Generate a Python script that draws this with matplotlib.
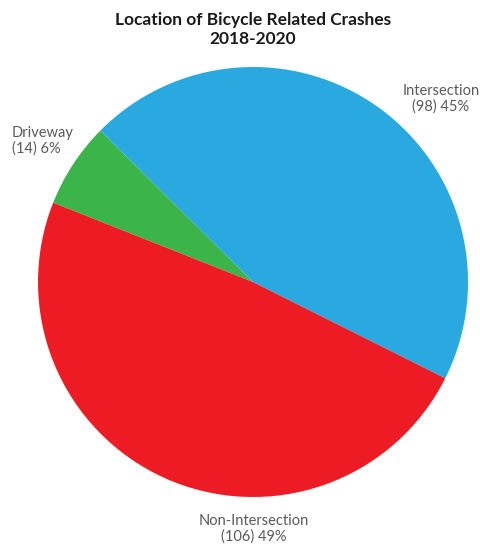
import matplotlib.pyplot as plt

labels = ["Intersection", "Driveway", "Non-Intersection"]
counts = [98, 14, 106]
colors = ["#29A9E0", "#3BB54A", "#ED1C24"]

W, H = 481, 548
fig = plt.figure(figsize=(W / 100, H / 100), dpi=100)

# pie centred at (253, 282) px with a 215 px radius
cx, cy, r = 253, 282, 215
ax = fig.add_axes([(cx - r) / W, (H - cy - r) / H, 2 * r / W, 2 * r / H])
ax.pie(counts, colors=colors, startangle=-26.6, counterclock=True,
       radius=1, wedgeprops=dict(linewidth=0))
ax.set_xlim(-1, 1)
ax.set_ylim(-1, 1)
ax.set_aspect("equal")
ax.axis("off")

total = sum(counts)
texts = [f"{lab}\n({n}) {round(100 * n / total)}%" for lab, n in zip(labels, counts)]

font = dict(family="Lato", fontsize=10.5, color="#5a5a5a", fontweight="normal",
            linespacing=1.1)
fig.text(441 / W, 1 - 99 / H, texts[0], ha="center", va="center", **font)
fig.text(12 / W, 1 - 141 / H, texts[1], ha="left", va="center", **font)
fig.text(254 / W, 1 - 529 / H, texts[2], ha="center", va="center", **font)

fig.text(253 / W, 1 - 29.5 / H, "Location of Bicycle Related Crashes\n2018-2020",
         ha="center", va="center", family="Lato", fontsize=12.5,
         fontweight="bold", color="#1a1a1a", linespacing=1.2)

fig.savefig("out.png", dpi=100, facecolor="white")
